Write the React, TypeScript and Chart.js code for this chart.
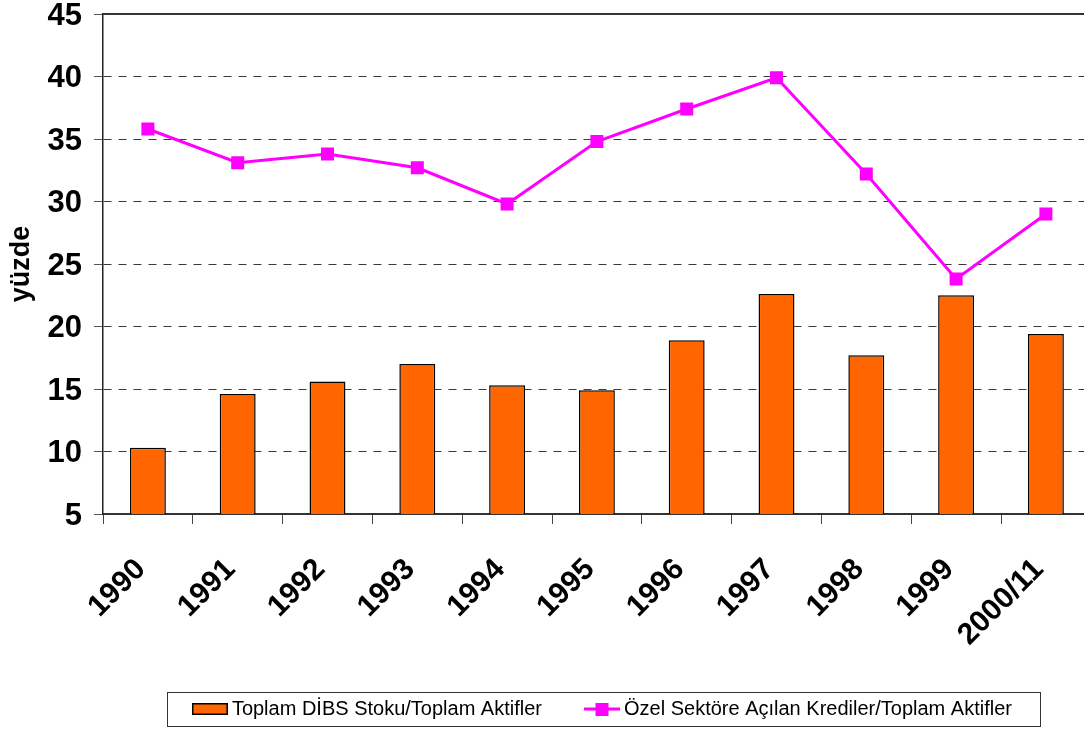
import React, { useEffect, useRef } from "react";
import { Chart, registerables } from "chart.js";

Chart.register(...registerables);

const categories = ["1990", "1991", "1992", "1993", "1994", "1995", "1996", "1997", "1998", "1999", "2000/11"];
const dibsValues = [10.3, 14.6, 15.6, 17.0, 15.3, 14.9, 18.9, 22.6, 17.7, 22.5, 19.4];
const krediValues = [35.8, 33.1, 33.8, 32.7, 29.8, 34.8, 37.4, 39.9, 32.2, 23.8, 29.0];
const seriesLabels = ["Toplam DİBS Stoku/Toplam Aktifler", "Özel Sektöre Açılan Krediler/Toplam Aktifler"];
const yTitle = "yüzde";

const FONT = "'Liberation Sans', Arial, Helvetica, sans-serif";
const ORANGE = "#FF6600";
const MAGENTA = "#FF00FF";

function makeBoxImage(): HTMLCanvasElement {
  const c = document.createElement("canvas");
  c.width = 36;
  c.height = 12;
  const g = c.getContext("2d")!;
  g.fillStyle = ORANGE;
  g.fillRect(0, 0, 36, 12);
  g.strokeStyle = "#000";
  g.lineWidth = 1.5;
  g.strokeRect(0.75, 0.75, 34.5, 10.5);
  return c;
}

function makeLineImage(): HTMLCanvasElement {
  const c = document.createElement("canvas");
  c.width = 36;
  c.height = 13;
  const g = c.getContext("2d")!;
  g.strokeStyle = MAGENTA;
  g.lineWidth = 3;
  g.beginPath();
  g.moveTo(0, 6.5);
  g.lineTo(36, 6.5);
  g.stroke();
  g.fillStyle = MAGENTA;
  g.fillRect(11.5, 0, 13, 13);
  return c;
}

const framePlugin = {
  id: "framePlugin",
  afterLayout(chart: any) {
    const lg = chart.legend;
    if (lg) {
      lg.left += 8;
      lg.right += 8;
    }
  },
  afterDraw(chart: any) {
    const ctx = chart.ctx;
    const area = chart.chartArea;
    ctx.save();
    ctx.strokeStyle = "#333";
    ctx.lineWidth = 2;
    ctx.beginPath();
    ctx.moveTo(area.left, area.top);
    ctx.lineTo(area.right, area.top);
    ctx.stroke();
    const lg = chart.legend;
    if (lg && lg.legendHitBoxes && lg.legendHitBoxes.length) {
      const hb = lg.legendHitBoxes;
      const first = hb[0];
      const last = hb[hb.length - 1];
      const cy = first.top + first.height / 2;
      const left = first.left - 31;
      const right = last.left + last.width + 28;
      ctx.strokeStyle = "#333";
      ctx.lineWidth = 1;
      ctx.strokeRect(Math.round(left) + 0.5, Math.round(cy - 17) + 0.5, Math.round(right - left), 34);
    }
    ctx.restore();
  },
};

export default function App() {
  const ref = useRef<HTMLCanvasElement | null>(null);
  useEffect(() => {
    if (!ref.current) return;
    const boxImg = makeBoxImage();
    const lineImg = makeLineImage();
    const chart = new Chart(ref.current, {
      type: "bar",
      data: {
        labels: categories,
        datasets: [
          {
            type: "line",
            label: seriesLabels[1],
            data: krediValues,
            borderColor: MAGENTA,
            backgroundColor: MAGENTA,
            borderWidth: 3,
            pointStyle: "rect",
            pointRadius: 9.2,
            pointBorderWidth: 0,
            pointBackgroundColor: MAGENTA,
            tension: 0,
            fill: false,
            order: 0,
          } as any,
          {
            type: "bar",
            label: seriesLabels[0],
            data: dibsValues,
            backgroundColor: ORANGE,
            borderColor: "#000",
            borderWidth: 1.5,
            barPercentage: 0.4,
            categoryPercentage: 1,
            order: 1,
          } as any,
        ],
      },
      options: {
        animation: false,
        responsive: false,
        maintainAspectRatio: false,
        layout: { padding: { top: 14, right: 7, left: 0, bottom: 0 } },
        plugins: {
          tooltip: { enabled: false },
          legend: {
            position: "bottom",
            fullSize: false,
            labels: {
              usePointStyle: true,
              pointStyleWidth: 24,
              padding: 48,
              color: "#000",
              font: { family: FONT, size: 20 },
              generateLabels: (ch: any) => {
                const items = (Chart.defaults.plugins.legend.labels as any).generateLabels(ch);
                const out: any[] = [];
                items.forEach((it: any) => {
                  if (it.text === seriesLabels[0]) {
                    it.pointStyle = boxImg;
                    out[0] = it;
                  } else {
                    it.pointStyle = lineImg;
                    out[1] = it;
                  }
                });
                return out.filter(Boolean);
              },
            },
            onClick: () => {},
          } as any,
        },
        scales: {
          x: {
            offset: true,
            grid: {
              display: true,
              offset: true,
              drawOnChartArea: false,
              drawTicks: true,
              tickLength: 10,
              tickColor: "#444",
              tickWidth: 1,
              color: "#444",
            },
            border: { display: true, color: "#333", width: 2 },
            ticks: {
              autoSkip: false,
              minRotation: 45,
              maxRotation: 45,
              padding: 28,
              labelOffset: -7,
              color: "#000",
              font: { family: FONT, size: 30, weight: "bold" },
            },
            afterFit: (s: any) => {
              s.height = 137;
              s.paddingLeft = 0;
              s.paddingRight = 0;
            },
          } as any,
          y: {
            min: 5,
            max: 45,
            grid: {
              color: (c: any) => (c.tick && (c.tick.value === 5 || c.tick.value === 45) ? "rgba(0,0,0,0)" : "#3a3a3a"),
              lineWidth: 1,
              tickColor: "#555",
              tickLength: 9,
              tickWidth: 1,
            },
            border: { display: true, color: "#222", width: 1.5, dash: [8, 7] },
            ticks: {
              stepSize: 5,
              padding: 12,
              labelOffset: 2,
              color: "#000",
              font: { family: FONT, size: 31, weight: "bold" },
            },
            title: {
              display: true,
              text: yTitle,
              color: "#000",
              font: { family: FONT, size: 27, weight: "bold" },
              padding: { top: 5, bottom: 0 },
            },
            afterFit: (s: any) => {
              s.width = 103;
              s.paddingTop = 0;
              s.paddingBottom = 0;
            },
          } as any,
        },
      },
      plugins: [framePlugin],
    });
    return () => chart.destroy();
  }, []);

  return (
    <div style={{ position: "absolute", left: 0, top: 0, width: 1084, height: 729, overflow: "hidden", background: "#fff" }}>
      <canvas ref={ref} width={1100} height={729} style={{ width: 1100, height: 729, display: "block" }} />
    </div>
  );
}
